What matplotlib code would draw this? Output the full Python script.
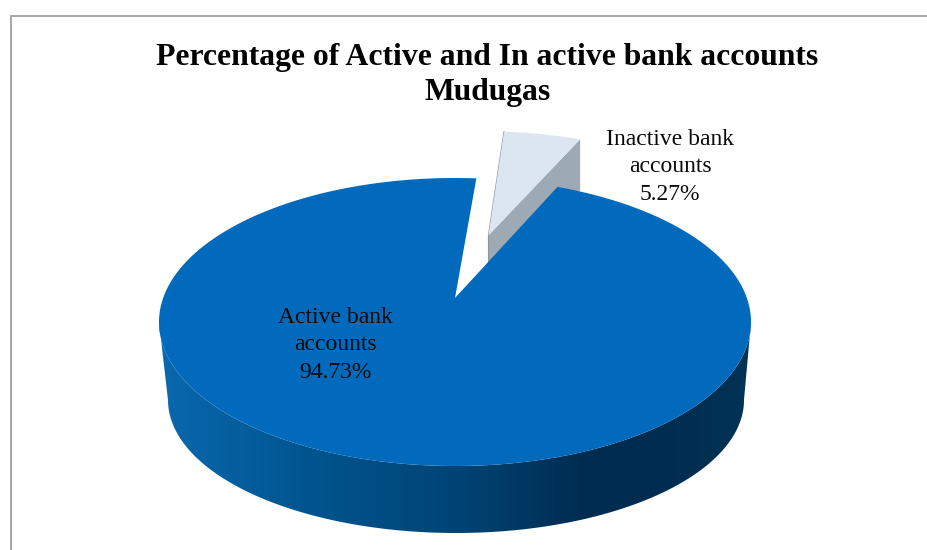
import numpy as np
import matplotlib
matplotlib.use("Agg")
import matplotlib.pyplot as plt
from matplotlib.colors import LinearSegmentedColormap
from matplotlib.patches import Polygon

# Account shares (percent)
categories = ["Active bank\naccounts", "Inactive bank\naccounts"]
shares = [94.73, 5.27]
title_lines = ["Percentage of Active and In active bank accounts", "Mudugas"]

plt.rcParams["font.family"] = ["Liberation Serif", "DejaVu Serif"]

# Pie placement on the page, in pixels
TOP_C = (455, 322)
TOP_R = (296, 144)
BASE_C = (456, 400)
BASE_R = (288, 133)
TILT = 0.167  # perspective strength, pulls the pie centre away from the viewer
EXPLODE = 0.5
SLICE_START = 4.9  # degrees clockwise from 12 o'clock


def project(u, v, centre=TOP_C, radius=TOP_R):
    # unit disc -> page, with perspective along the vertical axis
    u, v = np.asarray(u, float), np.asarray(v, float)
    w = 1 + TILT * v
    px = u * np.sqrt(1 - TILT ** 2) / w
    py = (v + TILT) / w
    return centre[0] + radius[0] * px, centre[1] - radius[1] * py


def arc(start, end, n=200):
    t = np.radians(np.linspace(start, end, n))
    return np.sin(t), np.cos(t)


fig = plt.figure(figsize=(9.28, 5.5), dpi=100)
ax = fig.add_axes([0, 0, 1, 1])
ax.set_xlim(0, 928)
ax.set_ylim(550, 0)
ax.axis("off")

# Chart frame, only the top and left edges fall on the page
ax.plot([11, 11, 930], [552, 16, 16], color="#a6a6a6", lw=1.4)

sweep = 360 * shares[1] / sum(shares)
small_start, small_end = SLICE_START, SLICE_START + sweep
mid = np.radians((small_start + small_end) / 2)
off_u, off_v = EXPLODE * np.sin(mid), EXPLODE * np.cos(mid)

# Inactive slice, pulled out from the pie
u, v = arc(small_start, small_end, 60)
rim_x, rim_y = project(u + off_u, v + off_v)
tip_x, tip_y = project(off_u, off_v)
tx, ty = np.r_[tip_x, rim_x], np.r_[tip_y, rim_y]


def slice_depth(y):
    # the cut face gets taller towards the rim
    return 14.5 + 29 * (TOP_C[1] - y) / TOP_R[1]


# its cut face
ex, ey = tx[-1], ty[-1]
ax.add_patch(Polygon([(tip_x, tip_y), (ex, ey), (ex, ey + slice_depth(ey)),
                      (tip_x, tip_y + slice_depth(tip_y))],
                     closed=True, fc="#9eaab3", ec="none", zorder=2))
ax.plot([tx[1], tip_x, tip_x], [ty[1], tip_y, tip_y + slice_depth(tip_y)],
        color="#8d979f", lw=0.9, zorder=3)
ax.fill(tx, ty, fc="#dce6f1", ec="none", zorder=3)

# Active slice: side wall first, shaded left to right.
# The wall starts where the top ellipse is widest on the page.
widest = np.degrees(np.arccos(-TILT))
wall_top = project(*arc(widest, 360 - widest))
wall_base = project(*arc(widest, 360 - widest), centre=BASE_C, radius=BASE_R)
wall = Polygon(np.c_[np.r_[wall_top[0], wall_base[0][::-1]],
                     np.r_[wall_top[1], wall_base[1][::-1]]],
               closed=True, fc="none", ec="none", zorder=4)
ax.add_patch(wall)
wall_cmap = LinearSegmentedColormap.from_list(
    "wall", [(0.0, "#0a68ae"), (0.25, "#00558f"), (0.5, "#004475"),
             (0.72, "#002c50"), (0.85, "#002c50"), (1.0, "#003355")])
shade = ax.imshow(np.linspace(0, 1, 400)[None, :], cmap=wall_cmap, aspect="auto",
                  extent=(159, 751, 540, 300), zorder=4)
shade.set_clip_path(wall)
ax.set_xlim(0, 928)
ax.set_ylim(550, 0)

# top face of the active slice
u, v = arc(small_end, 360 + small_start, 400)
rim_x, rim_y = project(u, v)
apex_x, apex_y = project(0, 0)
ax.fill(np.r_[apex_x, rim_x], np.r_[apex_y, rim_y], fc="#026abc", ec="none", zorder=5)

# Labels
ax.text(335, 345, f"{categories[0]}\n{shares[0]:.2f}%", ha="center", va="center",
        fontsize=17, linespacing=1.4, color="#0a0a0a", zorder=6)
ax.text(670, 167, f"{categories[1]}\n{shares[1]:.2f}%", ha="center", va="center",
        fontsize=17, linespacing=1.4, color="#0a0a0a", zorder=6)

ax.text(487.5, 75, "\n".join(title_lines), ha="center", va="center", fontsize=22.8,
        fontweight="bold", linespacing=1.3, color="black", zorder=6)

fig.savefig("out.png", dpi=100)
